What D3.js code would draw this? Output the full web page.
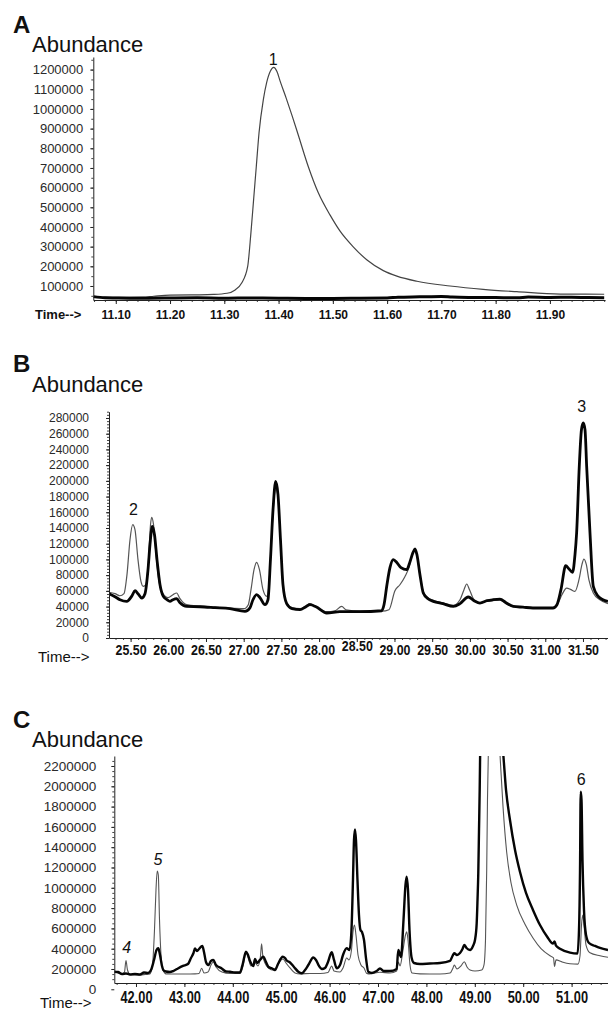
<!DOCTYPE html>
<html><head><meta charset="utf-8">
<script src="https://cdn.jsdelivr.net/npm/d3@7"></script>
<style>
html,body{margin:0;padding:0;background:#fff;}
svg{display:block;font-family:"Liberation Sans",Arial,sans-serif;}
</style></head><body>
<svg id="chart" width="608" height="1013"></svg>
<script>
// ---------- DATA (time in min, abundance) ----------
// Panel A
const aThin = [[11.059,42000],[11.10,42500],[11.15,43000],[11.17,48000],[11.20,54000],[11.25,55000],[11.28,57000],[11.305,63000],[11.320,80000],[11.332,115000],[11.343,198000],[11.349,369000],[11.354,539000],[11.359,709000],[11.364,879000],[11.372,1049000],[11.378,1134000],[11.385,1193000],[11.391,1211000],[11.397,1190000],[11.403,1140000],[11.414,1055000],[11.425,965000],[11.436,870000],[11.455,705000],[11.473,575000],[11.495,460000],[11.513,380000],[11.538,298000],[11.563,232000],[11.593,178000],[11.618,150000],[11.655,124000],[11.716,100000],[11.777,83000],[11.839,71000],[11.919,59000],[12.0,58000]];
const aThick = [[11.059,46000],[11.08,40000],[11.10,39000],[11.13,38000],[11.16,38000],[11.20,39000],[11.25,40000],[11.30,38000],[11.35,39000],[11.40,38000],[11.45,37000],[11.50,37000],[11.55,38000],[11.60,39000],[11.62,43000],[11.66,45000],[11.70,47000],[11.72,44000],[11.75,42000],[11.80,41000],[11.84,40000],[11.86,44000],[11.90,42000],[11.94,43000],[11.97,41000],[12.0,40000]];
const aTimeTicks = [11.10,11.20,11.30,11.40,11.50,11.60,11.70,11.80,11.90];
const aAbundTicks = [100000,200000,300000,400000,500000,600000,700000,800000,900000,1000000,1100000,1200000];
const aPeakLabels = ["1"], aPeakTimes = [11.390], aPeakAbund = [1224000];

// Panel B
const bThin = [[25.214,58000],[25.293,56400],[25.359,53800],[25.412,56400],[25.452,80600],[25.492,125100],[25.528,144200],[25.558,137800],[25.598,99700],[25.638,71700],[25.668,65700],[25.704,67800],[25.737,99700],[25.764,144200],[25.780,153500],[25.804,144200],[25.837,106000],[25.877,71700],[25.930,56400],[25.996,51300],[26.062,55100],[26.111,57300],[26.155,50000],[26.244,42400],[26.420,40500],[26.619,39200],[26.818,37900],[27.004,37300],[27.061,42400],[27.097,61500],[27.137,86900],[27.172,96200],[27.209,86900],[27.256,61500],[27.305,53000],[27.335,67800],[27.368,125100],[27.402,176000],[27.424,191300],[27.455,179800],[27.488,125100],[27.521,67800],[27.570,44900],[27.641,38600],[27.747,37300],[27.826,41100],[27.879,43700],[27.959,39800],[28.101,33500],[28.211,34700],[28.300,40200],[28.357,36000],[28.542,34100],[28.834,34100],[28.927,36000],[29.006,60200],[29.072,67800],[29.138,78000],[29.191,89500],[29.228,103500],[29.265,111100],[29.298,104700],[29.338,80600],[29.382,58900],[29.444,51300],[29.515,48100],[29.643,44900],[29.780,41700],[29.869,48700],[29.922,61500],[29.958,68700],[29.995,61500],[30.055,48700],[30.134,44500],[30.227,46800],[30.306,47500],[30.399,48100],[30.479,43700],[30.576,39800],[30.704,39200],[30.837,38600],[31.102,38600],[31.168,43700],[31.221,55100],[31.284,63600],[31.341,61500],[31.394,59300],[31.447,74200],[31.486,93300],[31.512,100500],[31.545,93300],[31.578,74200],[31.637,57300],[31.725,48700],[31.831,43700]];
const bThick = [[25.214,56400],[25.293,52600],[25.359,48700],[25.448,46600],[25.519,53800],[25.558,60200],[25.598,56400],[25.647,50900],[25.691,56400],[25.731,86900],[25.757,118700],[25.788,142000],[25.817,131500],[25.850,99700],[25.890,67800],[25.934,53000],[25.983,48700],[26.022,46600],[26.062,48700],[26.111,50000],[26.155,44900],[26.244,40200],[26.420,39800],[26.619,38600],[26.818,37300],[27.017,33900],[27.084,38600],[27.123,48700],[27.172,55100],[27.216,51300],[27.282,42400],[27.322,48700],[27.355,99700],[27.389,163300],[27.424,199300],[27.455,182400],[27.488,125100],[27.521,67800],[27.570,43700],[27.641,37300],[27.747,36000],[27.826,39800],[27.879,42400],[27.959,39800],[28.101,31800],[28.277,33500],[28.542,33500],[28.830,34700],[28.861,42400],[28.900,67800],[28.940,89500],[28.984,99700],[29.033,95800],[29.086,89500],[29.162,86900],[29.206,97100],[29.245,108600],[29.272,113300],[29.298,106000],[29.338,80600],[29.382,57300],[29.444,50000],[29.515,46600],[29.643,43700],[29.780,40200],[29.869,43700],[29.979,52200],[30.055,47500],[30.134,44500],[30.227,47500],[30.306,48700],[30.399,49400],[30.479,44900],[30.576,40200],[30.704,39200],[30.837,38200],[31.102,38200],[31.155,42400],[31.208,61500],[31.271,92000],[31.313,88200],[31.362,83500],[31.394,105800],[31.416,134000],[31.451,218400],[31.480,265100],[31.504,273600],[31.527,265100],[31.549,218400],[31.593,134000],[31.637,65700],[31.703,53000],[31.765,48700],[31.831,46600]];
const bTimeTicks = [25.5,26.0,26.5,27.0,27.5,28.0,28.5,29.0,29.5,30.0,30.5,31.0,31.5];
const bAbundTicks = [0,20000,40000,60000,80000,100000,120000,140000,160000,180000,200000,220000,240000,260000,280000];
const bPeakLabels = ["2","3"], bPeakTimes = [25.538,31.483], bPeakAbund = [157000,287000];

// Panel C
const cThin = [[41.552,173000],[41.628,160000],[41.711,150000],[41.762,170000],[41.793,282000],[41.824,190000],[41.876,148000],[41.979,142000],[42.083,142000],[42.186,146000],[42.289,152000],[42.341,239000],[42.382,584000],[42.413,978000],[42.438,1165000],[42.461,1126000],[42.486,683000],[42.517,338000],[42.558,190000],[42.620,152000],[42.806,150000],[43.012,150000],[43.219,152000],[43.302,156000],[43.357,207000],[43.405,161000],[43.488,170000],[43.550,239000],[43.597,269000],[43.653,220000],[43.777,170000],[43.942,155000],[44.149,155000],[44.211,230000],[44.273,358000],[44.314,318000],[44.376,230000],[44.459,259000],[44.521,230000],[44.572,328000],[44.595,447000],[44.620,328000],[44.665,259000],[44.738,210000],[44.810,190000],[44.893,210000],[44.996,289000],[45.037,299000],[45.099,259000],[45.182,210000],[45.285,161000],[45.389,152000],[45.595,156000],[45.802,156000],[45.967,166000],[46.043,230000],[46.091,180000],[46.215,170000],[46.277,210000],[46.353,308000],[46.401,289000],[46.452,387000],[46.483,565000],[46.514,633000],[46.545,535000],[46.587,338000],[46.649,240000],[46.711,210000],[46.766,157000],[46.835,152000],[47.041,168000],[47.248,160000],[47.386,180000],[47.419,269000],[47.455,230000],[47.517,387000],[47.568,535000],[47.593,566000],[47.620,486000],[47.661,240000],[47.703,160000],[47.868,152000],[48.281,150000],[48.488,160000],[48.550,210000],[48.576,240000],[48.632,200000],[48.715,230000],[48.783,272000],[48.839,220000],[48.901,190000],[49.004,180000],[49.143,190000],[49.190,240000],[49.221,486000],[49.246,1175000],[49.262,1865000],[49.279,2310000],[49.39,3400000],[49.521,2310000],[49.583,1800000],[49.659,1350000],[49.748,1050000],[49.866,830000],[50.037,640000],[50.209,500000],[50.368,400000],[50.554,330000],[50.626,310000],[50.647,225000],[50.678,290000],[50.802,270000],[50.967,252000],[51.132,248000],[51.174,330000],[51.205,633000],[51.229,732000],[51.256,633000],[51.298,436000],[51.380,360000],[51.587,330000],[51.752,315000]];
const cThick = [[41.552,173000],[41.628,170000],[41.711,151000],[41.793,156000],[41.876,146000],[41.979,151000],[42.083,146000],[42.165,165000],[42.248,161000],[42.310,190000],[42.372,289000],[42.424,387000],[42.461,404000],[42.496,338000],[42.537,230000],[42.564,190000],[42.620,175000],[42.702,170000],[42.771,180000],[42.847,200000],[42.971,230000],[43.074,249000],[43.136,308000],[43.188,358000],[43.219,402000],[43.260,377000],[43.302,397000],[43.370,427000],[43.405,368000],[43.446,269000],[43.494,239000],[43.550,279000],[43.597,289000],[43.653,239000],[43.771,205000],[43.860,175000],[43.942,173000],[44.045,166000],[44.149,166000],[44.200,239000],[44.273,370000],[44.314,338000],[44.355,279000],[44.424,230000],[44.459,299000],[44.500,259000],[44.562,289000],[44.630,321000],[44.686,269000],[44.738,220000],[44.804,207000],[44.872,190000],[44.934,249000],[45.031,321000],[45.079,308000],[45.114,284000],[45.182,264000],[45.264,220000],[45.353,173000],[45.424,158000],[45.492,190000],[45.560,239000],[45.663,313000],[45.719,289000],[45.781,230000],[45.843,200000],[45.905,210000],[45.967,269000],[46.043,365000],[46.091,289000],[46.147,207000],[46.215,239000],[46.277,338000],[46.353,404000],[46.411,387000],[46.452,584000],[46.483,1077000],[46.504,1471000],[46.525,1576000],[46.545,1471000],[46.576,1077000],[46.607,732000],[46.638,584000],[46.669,565000],[46.711,486000],[46.752,308000],[46.800,173000],[46.876,161000],[46.973,180000],[47.041,205000],[47.124,180000],[47.248,180000],[47.386,200000],[47.419,387000],[47.475,318000],[47.527,683000],[47.568,1028000],[47.593,1109000],[47.620,978000],[47.651,584000],[47.696,308000],[47.744,259000],[47.868,249000],[48.074,254000],[48.281,259000],[48.488,279000],[48.539,328000],[48.576,355000],[48.632,338000],[48.694,358000],[48.746,397000],[48.783,437000],[48.829,407000],[48.901,387000],[48.963,427000],[49.004,486000],[49.039,650000],[49.056,880000],[49.072,1143000],[49.087,1569000],[49.101,1964000],[49.114,2456000],[49.128,2850000],[49.355,3400000],[49.589,2310000],[49.645,1965000],[49.727,1668000],[49.831,1372000],[49.934,1156000],[50.058,949000],[50.202,782000],[50.347,633000],[50.492,520000],[50.616,450000],[50.647,472000],[50.678,430000],[50.760,400000],[50.967,362000],[51.122,352000],[51.153,584000],[51.174,1175000],[51.188,1947000],[51.205,1865000],[51.225,1274000],[51.256,782000],[51.298,536000],[51.360,456000],[51.484,427000],[51.587,407000],[51.752,387000]];
const cTimeTicks = [42,43,44,45,46,47,48,49,50,51];
const cAbundTicks = [0,200000,400000,600000,800000,1000000,1200000,1400000,1600000,1800000,2000000,2200000];
const cPeakLabels = ["4","5","6"], cPeakTimes = [41.808,42.455,51.200], cPeakAbund = [358000,1225000,2008000];

// ---------- DRAWING ----------
const svg = d3.select("#chart");
const FONT = '"Liberation Sans",Arial,sans-serif';

function panel(o) {
  const g = svg.append("g");
  const x = d3.scaleLinear().domain(o.xDomain).range(o.xRange);
  const y = d3.scaleLinear().domain(o.yDomain).range(o.yRange);
  const id = "clip" + o.key;
  svg.append("clipPath").attr("id", id).append("rect")
    .attr("x", o.xRange[0]).attr("y", o.yRange[1])
    .attr("width", o.xRange[1] - o.xRange[0]).attr("height", o.yRange[0] - o.yRange[1]);

  // titles
  g.append("text").attr("x", 13).attr("y", o.letterY).attr("font-size", 24).attr("font-weight", "bold").attr("fill", "#111").text(o.key);
  g.append("text").attr("x", 32).attr("y", o.abundY).attr("font-size", 22).attr("fill", "#111").text("Abundance");

  const line = d3.line().x(d => x(d[0])).y(d => y(d[1])).curve(d3.curveMonotoneX);
  g.append("path").datum(o.thin).attr("d", line).attr("fill", "none")
    .attr("stroke", o.thinColor).attr("stroke-width", o.thinW).attr("clip-path", `url(#${id})`);
  g.append("path").datum(o.thick).attr("d", line).attr("fill", "none")
    .attr("stroke", "#050505").attr("stroke-width", o.thickW).attr("stroke-linejoin", "round").attr("clip-path", `url(#${id})`);

  // y axis minor
  const yMin = [];
  for (let v = o.yMinorStart; v <= o.yDomain[1]; v += o.yMinorStep) yMin.push(v);
  g.append("g").attr("transform", `translate(${o.xRange[0]},0)`)
    .call(d3.axisLeft(y).tickValues(yMin).tickSize(2).tickFormat("").tickSizeOuter(0))
    .call(s => s.select(".domain").remove())
    .call(s => s.selectAll("line").attr("stroke", "#444"));
  // y axis major
  g.append("g").attr("transform", `translate(${o.xRange[0]},0)`)
    .call(d3.axisLeft(y).tickValues(o.yTicks).tickFormat(d3.format("d")).tickSize(3).tickPadding(o.yPad).tickSizeOuter(0))
    .call(s => s.select(".domain").attr("stroke", "#222"))
    .call(s => s.selectAll("line").attr("stroke", "#222"))
    .call(s => s.selectAll("text").attr("font-family", FONT).attr("font-size", o.yFont).attr("fill", "#2a2a2a"));

  // x axis minor
  const xMin = [];
  for (let k = Math.ceil(o.xDomain[0] / o.xMinorStep); k * o.xMinorStep <= o.xDomain[1]; k++) xMin.push(k * o.xMinorStep);
  g.append("g").attr("transform", `translate(0,${o.yRange[0]})`)
    .call(d3.axisBottom(x).tickValues(xMin).tickSize(2).tickFormat("").tickSizeOuter(0))
    .call(s => s.select(".domain").remove())
    .call(s => s.selectAll("line").attr("stroke", "#444"));
  // x axis major
  const xa = g.append("g").attr("transform", `translate(0,${o.yRange[0]})`)
    .call(d3.axisBottom(x).tickValues(o.xTicks).tickFormat(d => d.toFixed(2)).tickSize(4).tickSizeOuter(0))
    .call(s => s.select(".domain").attr("stroke", "#222"))
    .call(s => s.selectAll("line").attr("stroke", "#222"));
  xa.selectAll("text").attr("font-family", FONT).attr("font-size", o.xFont).attr("font-weight", "bold")
    .attr("fill", "#111").attr("dy", 0).attr("y", d => o.xLabOff - (o.raised && Math.abs(d - o.raised) < 1e-6 ? 4 : 0))
    .each(function () { if (o.xLen) d3.select(this).attr("textLength", o.xLen).attr("lengthAdjust", "spacingAndGlyphs"); });

  // Time label
  g.append("text").attr("x", o.timeX).attr("y", o.timeY).attr("font-size", o.timeFont)
    .attr("font-weight", o.timeBold ? "bold" : "normal").attr("fill", "#111").text("Time-->");

  // peak labels
  o.pk.forEach((t, i) => {
    g.append("text").attr("x", x(o.pkT[i])).attr("y", y(o.pkV[i])).attr("text-anchor", "middle")
      .attr("font-size", 16).attr("fill", "#111")
      .attr("font-style", o.italic && o.italic.includes(t) ? "italic" : "normal").text(t);
  });
}

panel({key: "A", letterY: 33, abundY: 52,
  xDomain: [11.0586, 12.0015], xRange: [93.3, 605], yDomain: [28800, 1264000], yRange: [300, 57],
  thin: aThin, thick: aThick, thinColor: "#444", thinW: 1.2, thickW: 3,
  yTicks: aAbundTicks, yMinorStart: 50000, yMinorStep: 50000, yPad: 7, yFont: 13,
  xTicks: aTimeTicks, xMinorStep: 0.02, xFont: 12, xLabOff: 19,
  timeX: 35, timeY: 319, timeFont: 13, timeBold: true,
  pk: aPeakLabels, pkT: aPeakTimes, pkV: aPeakAbund});

panel({key: "B", letterY: 372, abundY: 392,
  xDomain: [25.2135, 31.832], xRange: [109, 608], yDomain: [0, 288000], yRange: [638, 411.7],
  thin: bThin, thick: bThick, thinColor: "#555", thinW: 1.2, thickW: 2.8,
  yTicks: bAbundTicks, yMinorStart: 0, yMinorStep: 4000, yPad: 17, yFont: 12,
  xTicks: bTimeTicks, xMinorStep: 0.1, xFont: 14, xLen: 31, xLabOff: 17, raised: 28.5,
  timeX: 38, timeY: 662, timeFont: 15, timeBold: false,
  pk: bPeakLabels, pkT: bPeakTimes, pkV: bPeakAbund});

panel({key: "C", letterY: 728, abundY: 747,
  xDomain: [41.5517, 51.7521], xRange: [114.3, 608], yDomain: [62000, 2298500], yRange: [983, 756],
  thin: cThin, thick: cThick, thinColor: "#555", thinW: 1.1, thickW: 2.4,
  yTicks: cAbundTicks, yMinorStart: 100000, yMinorStep: 50000, yPad: 15, yFont: 13.5,
  xTicks: cTimeTicks, xMinorStep: 0.2, xFont: 16, xLen: 32, xLabOff: 20,
  timeX: 40, timeY: 1008, timeFont: 15, timeBold: false,
  pk: cPeakLabels, pkT: cPeakTimes, pkV: cPeakAbund, italic: ["4", "5"]});
</script>
</body></html>
